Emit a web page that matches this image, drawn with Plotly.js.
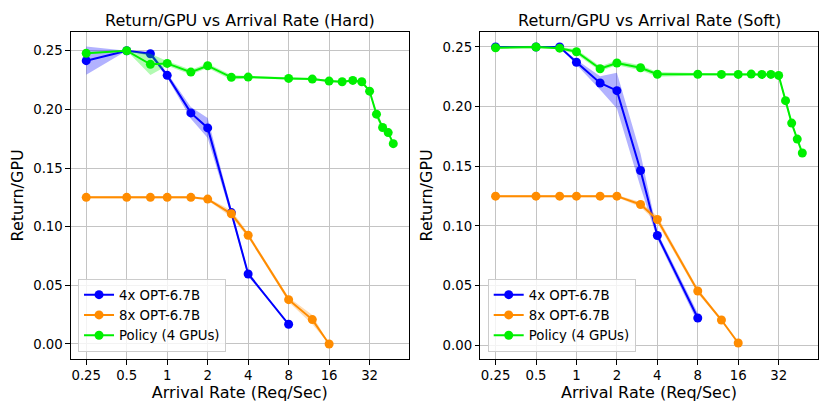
<!DOCTYPE html>
<html>
<head>
<meta charset="utf-8">
<script src="https://cdn.plot.ly/plotly-3.0.1.min.js"></script>
<style>
  html, body { margin: 0; padding: 0; background: #ffffff; }
  #chart { width: 830px; height: 415px; }
</style>
</head>
<body>
<div id="chart"></div>
<script>
// arrival rates (req/sec)
var rateAll = [0.25, 0.5, 0.75, 1, 1.5, 2, 3, 4, 8, 12, 16, 20, 24, 28, 32, 36, 40, 44, 48];
var rate4x = [0.25, 0.5, 0.75, 1, 1.5, 2, 3, 4, 8];
var rate8x = [0.25, 0.5, 0.75, 1, 1.5, 2, 3, 4, 8, 12, 16];

var tickVals = [0.25, 0.5, 1, 2, 4, 8, 16, 32];
var tickText = ['0.25', '0.5', '1', '2', '4', '8', '16', '32'];

// Hard
var hard4x = [0.2415, 0.250, 0.2474, 0.229, 0.197, 0.1842, 0.112, 0.0597, 0.0168];
var hard4xStd = [0.012, 0, 0.002, 0.002, 0.005, 0.0085, 0.003, 0.002, 0];
var hard8x = [0.125, 0.125, 0.125, 0.125, 0.125, 0.1235, 0.111, 0.0927, 0.0378, 0.0208, 0.0];
var hard8xStd = [0.001, 0.001, 0.001, 0.001, 0.001, 0.001, 0.003, 0.002, 0.002, 0.004, 0];
var hardPolicy = [0.2478, 0.250, 0.2384, 0.2392, 0.2318, 0.2372, 0.2273, 0.2275, 0.2264, 0.2258,
  0.2241, 0.2235, 0.2247, 0.2235, 0.2155, 0.1959, 0.1845, 0.1802, 0.1708];
var hardPolicyStd = [0.001, 0, 0.009, 0.002, 0.002, 0.002, 0.002, 0.001, 0.001, 0.001,
  0.001, 0.001, 0.001, 0.001, 0.001, 0.003, 0.002, 0.001, 0.001];

// Soft
var soft4x = [0.250, 0.250, 0.250, 0.2372, 0.2198, 0.2134, 0.1465, 0.092, 0.0229];
var soft4xStd = [0, 0, 0, 0.002, 0.0056, 0.015, 0.014, 0.003, 0.004];
var soft8x = [0.125, 0.125, 0.125, 0.125, 0.125, 0.125, 0.118, 0.1054, 0.0455, 0.0212, 0.0019];
var soft8xStd = [0.001, 0.001, 0.001, 0.001, 0.001, 0.001, 0.002, 0.003, 0.002, 0.001, 0];
var softPolicy = [0.2494, 0.250, 0.249, 0.246, 0.2318, 0.2366, 0.2326, 0.2271, 0.2271, 0.227,
  0.227, 0.2273, 0.227, 0.227, 0.2262, 0.205, 0.1862, 0.1728, 0.1611];
var softPolicyStd = [0.001, 0.001, 0.001, 0.002, 0.002, 0.002, 0.002, 0.002, 0.001, 0.001,
  0.001, 0.001, 0.001, 0.001, 0.001, 0.003, 0.002, 0.001, 0.001];

var names = ['4x OPT-6.7B', '8x OPT-6.7B', 'Policy (4 GPUs)'];
var colors = ['#0000ff', '#ff8c00', '#00f000'];
var bands = ['rgba(0,0,255,0.3)', 'rgba(255,140,0,0.3)', 'rgba(0,240,0,0.3)'];

var FONT = 'DejaVu Sans, sans-serif';

function bandTrace(x, y, s, fillcolor, xa, ya) {
  var bx = x.slice().concat(x.slice().reverse());
  var up = y.map(function (v, i) { return v + s[i]; });
  var lo = y.map(function (v, i) { return v - s[i]; }).reverse();
  return {
    type: 'scatter', mode: 'lines', x: bx, y: up.concat(lo),
    fill: 'toself', fillcolor: fillcolor, line: { width: 0 },
    hoverinfo: 'skip', showlegend: false, xaxis: xa, yaxis: ya
  };
}

function lineTrace(x, y, i, xa, ya, legend) {
  return {
    type: 'scatter', mode: 'lines+markers', name: names[i], x: x, y: y,
    line: { color: colors[i], width: 2 },
    marker: { color: colors[i], size: 9 },
    xaxis: xa, yaxis: ya, legend: legend
  };
}

var traces = [];
function addPanel(sets, xa, ya, legend) {
  sets.forEach(function (s, i) {
    traces.push(bandTrace(s[0], s[1], s[2], bands[i], xa, ya));
    traces.push(lineTrace(s[0], s[1], i, xa, ya, legend));
  });
}

addPanel([[rate4x, hard4x, hard4xStd], [rate8x, hard8x, hard8xStd], [rateAll, hardPolicy, hardPolicyStd]], 'x', 'y', 'legend');
addPanel([[rate4x, soft4x, soft4xStd], [rate8x, soft8x, soft8xStd], [rateAll, softPolicy, softPolicyStd]], 'x2', 'y2', 'legend2');

function xAxis(domain, anchor) {
  return {
    type: 'log', domain: domain, anchor: anchor,
    range: [Math.log10(0.1925), Math.log10(62.5)],
    tickvals: tickVals, ticktext: tickText,
    showgrid: true, gridcolor: '#c4c4c4', gridwidth: 1, zeroline: false,
    showline: true, mirror: true, linecolor: '#000000', linewidth: 1,
    ticks: 'outside', ticklen: 4.5, tickcolor: '#000000',
    tickfont: { size: 13.3, color: '#000000' },
    title: { text: 'Arrival Rate (Req/Sec)', font: { size: 16, color: '#000000' }, standoff: 4 },
    automargin: false
  };
}
function yAxis(domain, anchor, range) {
  return {
    domain: domain, anchor: anchor, range: range,
    tickvals: [0, 0.05, 0.10, 0.15, 0.20, 0.25], tickformat: '.2f',
    showgrid: true, gridcolor: '#c4c4c4', gridwidth: 1, zeroline: false,
    showline: true, mirror: true, linecolor: '#000000', linewidth: 1,
    ticks: 'outside', ticklen: 4.5, tickcolor: '#000000',
    tickfont: { size: 13.3, color: '#000000' },
    title: { text: 'Return/GPU', font: { size: 16, color: '#000000' }, standoff: 5 },
    automargin: false
  };
}

var yDom = [0.1349, 0.9236];
var legendStyle = function (x) {
  return {
    x: x, y: 0.153, xanchor: 'left', yanchor: 'bottom',
    bgcolor: 'rgba(255,255,255,0.8)', bordercolor: '#cccccc', borderwidth: 1,
    font: { size: 13.3, color: '#000000' }, itemwidth: 30, tracegroupgap: 0
  };
};

var layout = {
  width: 830, height: 415,
  margin: { l: 0, r: 0, t: 0, b: 0 },
  paper_bgcolor: '#ffffff', plot_bgcolor: '#ffffff',
  font: { family: FONT, color: '#000000' },
  xaxis: xAxis([0.0855, 0.4924], 'y'),
  yaxis: yAxis(yDom, 'x', [-0.0128, 0.2662]),
  xaxis2: xAxis([0.5787, 0.9852], 'y2'),
  yaxis2: yAxis(yDom, 'x2', [-0.0115, 0.2628]),
  legend: legendStyle(0.094),
  legend2: legendStyle(0.5876),
  annotations: [
    { text: 'Return/GPU vs Arrival Rate (Hard)', x: (0.0855 + 0.4924) / 2, y: 0.951, xref: 'paper', yref: 'paper',
      xanchor: 'center', yanchor: 'middle', showarrow: false, font: { size: 16, color: '#000000' } },
    { text: 'Return/GPU vs Arrival Rate (Soft)', x: (0.5787 + 0.9852) / 2, y: 0.951, xref: 'paper', yref: 'paper',
      xanchor: 'center', yanchor: 'middle', showarrow: false, font: { size: 16, color: '#000000' } }
  ],
  showlegend: true
};

Plotly.newPlot('chart', traces, layout, { displayModeBar: false, staticPlot: true });
</script>
</body>
</html>
